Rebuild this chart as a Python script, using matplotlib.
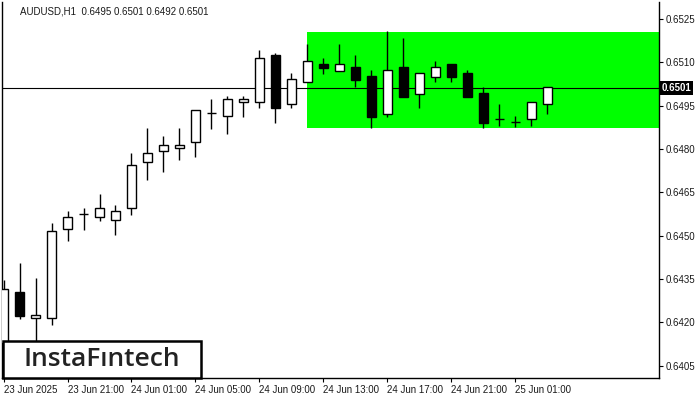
import matplotlib
matplotlib.use("Agg")
import matplotlib.pyplot as plt
from matplotlib.patches import Rectangle
import pandas as pd
import numpy as np

# ---- data ----
times = pd.date_range("2025-06-23 17:00", periods=35, freq="h")
opens = [0.64130, 0.64304, 0.64214, 0.64214, 0.64522, 0.64575, 0.64564, 0.64553,
         0.64595, 0.64754, 0.64792, 0.64802, 0.64823, 0.64925, 0.64913, 0.64962,
         0.64962, 0.65124, 0.64955, 0.65033, 0.65094, 0.65071, 0.65084, 0.65053,
         0.64922, 0.65084, 0.64991, 0.65050, 0.65093, 0.65062, 0.64993, 0.64903,
         0.64892, 0.64903, 0.64955]
highs = [0.64347, 0.64407, 0.64354, 0.64544, 0.64585, 0.64596, 0.64644, 0.64606,
         0.64786, 0.64873, 0.64845, 0.64873, 0.64934, 0.64972, 0.64982, 0.64982,
         0.65142, 0.65131, 0.65062, 0.65164, 0.65115, 0.65164, 0.65125, 0.65074,
         0.65207, 0.65184, 0.65062, 0.65105, 0.65093, 0.65072, 0.65014, 0.64955,
         0.64913, 0.64962, 0.65013]
lows = [0.64100, 0.64213, 0.64100, 0.64192, 0.64483, 0.64521, 0.64552, 0.64503,
        0.64573, 0.64694, 0.64721, 0.64763, 0.64773, 0.64870, 0.64853, 0.64912,
        0.64943, 0.64891, 0.64943, 0.65033, 0.65061, 0.65071, 0.65014, 0.64872,
        0.64912, 0.64981, 0.64943, 0.65033, 0.65033, 0.64981, 0.64872, 0.64881,
        0.64876, 0.64881, 0.64922]
closes = [0.64315, 0.64223, 0.64224, 0.64515, 0.64564, 0.64575, 0.64595, 0.64584,
          0.64744, 0.64786, 0.64813, 0.64813, 0.64934, 0.64925, 0.64972, 0.64972,
          0.65114, 0.64943, 0.65041, 0.65104, 0.65081, 0.65093, 0.65040, 0.64912,
          0.65072, 0.64981, 0.65062, 0.65083, 0.65050, 0.64981, 0.64891, 0.64903,
          0.64892, 0.64962, 0.65013]
current_price = 0.65011
zone_low, zone_high = 0.64874, 0.65205
zone_start = 19
title_text = "AUDUSD,H1  0.6495 0.6501 0.6492 0.6501"
price_ticks = [0.6405, 0.6420, 0.6435, 0.6450, 0.6465, 0.6480, 0.6495, 0.6510, 0.6525]
tick_idx = [0, 4, 8, 12, 16, 20, 24, 28, 32]

FONT = "Liberation Sans"

# ---- figure ----
fig = plt.figure(figsize=(7, 4), dpi=100)
ax = fig.add_axes([2/700, 22/400, 657/700, 376/400])
x = np.arange(len(opens))
o = np.array(opens); c = np.array(closes); h = np.array(highs); l = np.array(lows)

ax.set_xlim(-0.094, 40.97)
ax.set_ylim(0.640074, 0.653088)

# zone
ax.add_patch(Rectangle((zone_start, zone_low), 50, zone_high - zone_low,
                       facecolor="#00ff00", edgecolor="none", zorder=1))
# current price line
ax.axhline(current_price, color="black", lw=0.8, zorder=2)

# wicks
ax.vlines(x, l, h, color="black", lw=1.0, zorder=3)
# bodies
up = c >= o
bottoms = np.minimum(o, c)
heights = np.abs(c - o)
ax.bar(x[up], heights[up], bottom=bottoms[up], width=0.62, facecolor="white",
       edgecolor="black", linewidth=1.0, zorder=4)
ax.bar(x[~up], heights[~up], bottom=bottoms[~up], width=0.62, facecolor="black",
       edgecolor="black", linewidth=1.0, zorder=4)

# axes styling
ax.spines["top"].set_visible(False)
for s in ["left", "right", "bottom"]:
    ax.spines[s].set_linewidth(1.0)
ax.yaxis.tick_right()
ax.set_yticks(price_ticks)
ax.set_yticklabels([f"{p:.4f}" for p in price_ticks], fontsize=7, family=FONT,
                   color="#1a1a1a")
ax.tick_params(axis="y", length=3, width=0.8, pad=2)
labels = []
for i in tick_idx:
    t = times[i]
    labels.append(t.strftime("%d %b %Y") if i == 0 else t.strftime("%d %b %H:%M"))
ax.set_xticks(tick_idx)
ax.set_xticklabels(labels, fontsize=7, ha="left", family=FONT, color="#1a1a1a")
ax.tick_params(axis="x", length=3, width=0.8, pad=2)

# title
ax.text(18/657, 1 - 10/376, title_text, transform=ax.transAxes, fontsize=7,
        va="center", ha="left", family=FONT, color="#1a1a1a")

# price label
ax.text(1.004, current_price, f"{current_price:.4f}", transform=ax.get_yaxis_transform(),
        fontsize=7, color="white", va="center", ha="left", fontweight="bold", family=FONT,
        bbox=dict(boxstyle="square,pad=0.2", facecolor="black", edgecolor="none"),
        zorder=10, clip_on=False)

# logo box
fig.patches.append(Rectangle((3/700, 22/400), 198/700, 37/400, transform=fig.transFigure,
                             facecolor="white", edgecolor="black", linewidth=1.8, zorder=20))
fig.text(102/700, (400-360)/400, "InstaFıntech", fontsize=19, family="Open Sans",
         fontweight="semibold", color="#222222", ha="center", va="center", zorder=21)

fig.savefig("out.png", dpi=100)
